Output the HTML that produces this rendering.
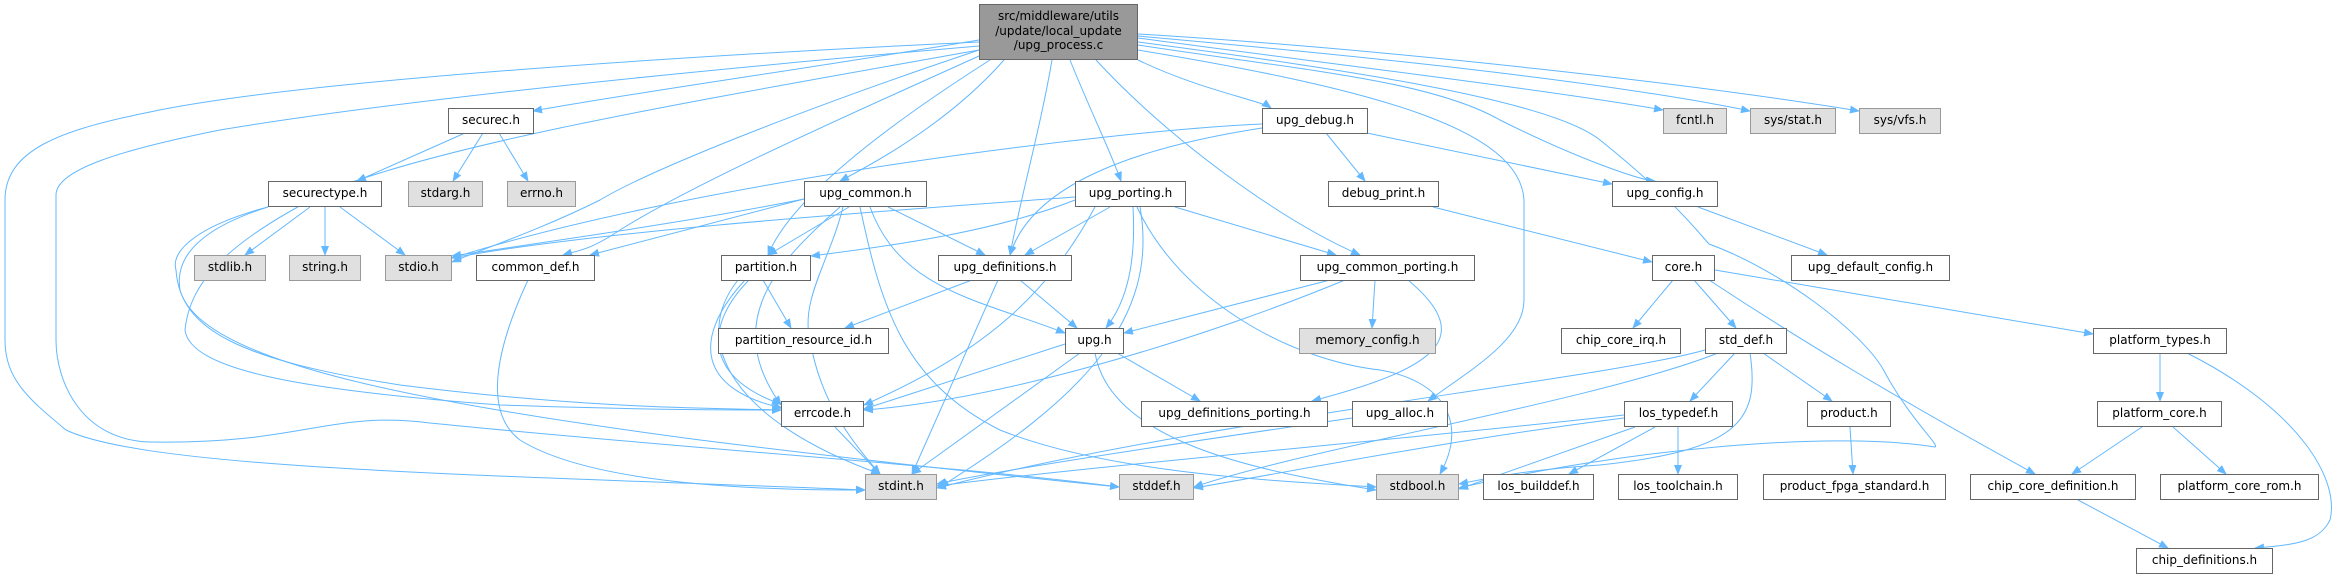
<!DOCTYPE html>
<html><head><meta charset="utf-8"><style>
html,body{margin:0;padding:0;background:#fff;}
body{width:2341px;height:579px;position:relative;overflow:hidden;font-family:"DejaVu Sans","Liberation Sans",sans-serif;}
svg{position:absolute;left:0;top:0;}
.n{position:absolute;box-sizing:border-box;border:1.5px solid #666;background:#fff;font-size:12px;color:#000;text-align:center;height:26px;line-height:23px;white-space:nowrap;}
.g{background:#e0e0e0;border-color:#999;}
</style></head><body>
<svg width="2341" height="579" viewBox="0 0 2341 579">
<defs><marker id="a" markerWidth="10" markerHeight="8" refX="9" refY="4" orient="auto" markerUnits="userSpaceOnUse"><path d="M0,0 L10,4 L0,8 z" fill="#63b8ff"/></marker></defs>
<g fill="none" stroke="#63b8ff" stroke-width="1" marker-end="url(#a)">
<path d="M979,40 C800,70 650,90 533,111"/>
<path d="M979,50 C800,110 650,170 600,200 C540,230 480,250 452,262"/>
<path d="M979,56 C860,110 700,180 620,230 C590,250 580,250 563,255"/>
<path d="M990,60 C880,130 790,200 768,255"/>
<path d="M1004,60 C960,110 900,150 840,181"/>
<path d="M1052,60 C1040,130 1020,200 1010,255"/>
<path d="M1070,60 C1090,110 1110,150 1121,181"/>
<path d="M1096,60 C1170,140 1280,220 1360,255"/>
<path d="M1138,60 C1200,90 1260,100 1271,108"/>
<path d="M1138,45 C1300,70 1430,80 1500,120 C1580,160 1640,180 1655,181"/>
<path d="M1138,38 C1300,60 1550,90 1663,110"/>
<path d="M1138,36 C1350,55 1600,80 1750,111"/>
<path d="M1138,34 C1400,50 1700,85 1859,111"/>
<path d="M1138,50 C1380,90 1520,130 1524,200 L1524,300 C1524,340 1470,370 1428,401"/>
<path d="M1138,42 C1350,70 1550,100 1600,140 C1650,180 1680,210 1709,244 C1780,270 1860,330 1883,369 C1910,420 1940,445 1935,447 C1830,430 1620,450 1459,488"/>
<path d="M979,42 C700,55 300,80 150,112 C60,130 5,150 5,200 L5,340 C5,380 30,400 66,430 C150,470 500,475 865,490"/>
<path d="M979,46 C700,70 400,100 220,130 C120,150 56,170 56,195 L56,340 C56,380 80,440 150,442 C300,445 330,410 430,423 C700,450 950,465 1119,487"/>
<path d="M979,50 C700,100 460,140 330,190 C230,240 190,280 185,330 C190,370 300,390 500,405 C650,410 720,410 781,410"/>
<path d="M465,133 L357,181"/>
<path d="M483,133 L453,181"/>
<path d="M499,133 L528,181"/>
<path d="M310,207 L245,255"/>
<path d="M325,207 L325,255"/>
<path d="M340,207 L405,255"/>
<path d="M268,207 C200,225 170,250 176,270 C180,330 240,360 400,385 C600,410 720,408 781,410"/>
<path d="M268,207 C195,230 175,260 180,290 C200,360 400,400 700,440 C900,465 1050,480 1119,487"/>
<path d="M528,280 C500,340 480,410 520,440 C600,490 800,490 865,490"/>
<path d="M1262,124 C1120,130 700,180 452,258"/>
<path d="M1262,128 C1120,150 1030,190 1010,255"/>
<path d="M1326,133 L1365,181"/>
<path d="M1367,133 L1612,184"/>
<path d="M804,199 C700,220 560,240 452,256"/>
<path d="M804,199 L590,255"/>
<path d="M849,207 L768,255"/>
<path d="M840,207 C780,260 720,320 781,405"/>
<path d="M888,207 L985,255"/>
<path d="M870,207 C900,290 980,300 1065,333"/>
<path d="M860,207 C880,300 900,380 1000,430 C1100,470 1250,480 1376,487"/>
<path d="M843,207 C830,260 800,300 810,340 C820,400 850,440 880,474"/>
<path d="M1075,197 C900,210 600,230 452,258"/>
<path d="M1075,200 C1000,230 900,245 811,256"/>
<path d="M1110,207 L1025,255"/>
<path d="M1095,207 C1050,290 990,350 864,405"/>
<path d="M1133,207 C1136,260 1128,300 1106,328"/>
<path d="M1175,207 L1336,255"/>
<path d="M1140,207 C1160,320 1080,400 940,487"/>
<path d="M1137,207 C1180,300 1290,360 1380,370 C1440,380 1470,420 1440,474"/>
<path d="M749,280 C700,330 710,380 781,404"/>
<path d="M745,280 C690,340 700,390 782,408"/>
<path d="M763,280 L791,328"/>
<path d="M738,280 C690,340 730,420 880,474"/>
<path d="M972,280 L845,328"/>
<path d="M1020,280 L1077,328"/>
<path d="M998,280 L912,474"/>
<path d="M1330,280 L1124,333"/>
<path d="M1375,280 L1372,328"/>
<path d="M1345,280 C1200,340 1000,400 864,410"/>
<path d="M1408,280 C1480,340 1430,370 1312,401"/>
<path d="M1065,344 L864,409"/>
<path d="M1080,353 L912,474"/>
<path d="M1117,353 L1200,401"/>
<path d="M1095,353 C1110,440 1250,470 1376,490"/>
<path d="M835,427 L880,474"/>
<path d="M1352,418 C1200,440 1000,470 937,484"/>
<path d="M1433,207 L1652,262"/>
<path d="M1698,207 L1827,255"/>
<path d="M1673,280 L1633,328"/>
<path d="M1694,280 L1736,328"/>
<path d="M1709,280 C1800,340 1900,400 2035,474"/>
<path d="M1715,270 L2093,334"/>
<path d="M1735,353 L1690,401"/>
<path d="M1763,353 L1832,401"/>
<path d="M1705,350 C1600,380 1200,420 937,488"/>
<path d="M1718,353 C1600,400 1300,450 1194,487"/>
<path d="M1750,353 C1760,420 1740,450 1600,465 C1520,470 1480,480 1459,484"/>
<path d="M1624,415 C1400,440 1100,465 937,486"/>
<path d="M1624,418 C1450,440 1300,470 1194,488"/>
<path d="M1635,427 L1459,489"/>
<path d="M1655,427 L1569,474"/>
<path d="M1678,427 L1678,474"/>
<path d="M1850,427 L1853,474"/>
<path d="M2160,353 L2160,401"/>
<path d="M2187,353 C2300,410 2340,480 2330,520 C2320,540 2300,545 2255,548"/>
<path d="M2142,427 L2072,474"/>
<path d="M2173,427 L2226,474"/>
<path d="M2078,500 L2168,548"/>
</g>
</svg>
<div class="n" style="left:979px;top:4px;width:159px;height:56px;line-height:14.5px;padding-top:4px;background:#999;border-color:#666;">src/middleware/utils<br>/update/local_update<br>/upg_process.c</div>
<div class="n" style="left:448px;top:108px;width:86px;">securec.h</div>
<div class="n" style="left:1262px;top:108px;width:106px;">upg_debug.h</div>
<div class="n g" style="left:1663px;top:108px;width:64px;">fcntl.h</div>
<div class="n g" style="left:1750px;top:108px;width:86px;">sys/stat.h</div>
<div class="n g" style="left:1859px;top:108px;width:82px;">sys/vfs.h</div>
<div class="n" style="left:268px;top:181px;width:114px;">securectype.h</div>
<div class="n g" style="left:408px;top:181px;width:75px;">stdarg.h</div>
<div class="n g" style="left:507px;top:181px;width:69px;">errno.h</div>
<div class="n" style="left:804px;top:181px;width:123px;">upg_common.h</div>
<div class="n" style="left:1075px;top:181px;width:111px;">upg_porting.h</div>
<div class="n" style="left:1328px;top:181px;width:111px;">debug_print.h</div>
<div class="n" style="left:1612px;top:181px;width:106px;">upg_config.h</div>
<div class="n g" style="left:194px;top:255px;width:72px;">stdlib.h</div>
<div class="n g" style="left:289px;top:255px;width:72px;">string.h</div>
<div class="n g" style="left:385px;top:255px;width:67px;">stdio.h</div>
<div class="n" style="left:476px;top:255px;width:119px;">common_def.h</div>
<div class="n" style="left:721px;top:255px;width:90px;">partition.h</div>
<div class="n" style="left:938px;top:255px;width:134px;">upg_definitions.h</div>
<div class="n" style="left:1300px;top:255px;width:175px;">upg_common_porting.h</div>
<div class="n" style="left:1652px;top:255px;width:63px;">core.h</div>
<div class="n" style="left:1791px;top:255px;width:159px;">upg_default_config.h</div>
<div class="n" style="left:718px;top:328px;width:171px;">partition_resource_id.h</div>
<div class="n" style="left:1065px;top:328px;width:59px;">upg.h</div>
<div class="n g" style="left:1299px;top:328px;width:137px;">memory_config.h</div>
<div class="n" style="left:1561px;top:328px;width:120px;">chip_core_irq.h</div>
<div class="n" style="left:1705px;top:328px;width:82px;">std_def.h</div>
<div class="n" style="left:2093px;top:328px;width:134px;">platform_types.h</div>
<div class="n" style="left:781px;top:401px;width:83px;">errcode.h</div>
<div class="n" style="left:1141px;top:401px;width:187px;">upg_definitions_porting.h</div>
<div class="n" style="left:1352px;top:401px;width:96px;">upg_alloc.h</div>
<div class="n" style="left:1624px;top:401px;width:109px;">los_typedef.h</div>
<div class="n" style="left:1807px;top:401px;width:84px;">product.h</div>
<div class="n" style="left:2097px;top:401px;width:125px;">platform_core.h</div>
<div class="n g" style="left:865px;top:474px;width:72px;">stdint.h</div>
<div class="n g" style="left:1119px;top:474px;width:75px;">stddef.h</div>
<div class="n g" style="left:1376px;top:474px;width:83px;">stdbool.h</div>
<div class="n" style="left:1483px;top:474px;width:111px;">los_builddef.h</div>
<div class="n" style="left:1618px;top:474px;width:120px;">los_toolchain.h</div>
<div class="n" style="left:1763px;top:474px;width:183px;">product_fpga_standard.h</div>
<div class="n" style="left:1970px;top:474px;width:166px;">chip_core_definition.h</div>
<div class="n" style="left:2160px;top:474px;width:159px;">platform_core_rom.h</div>
<div class="n" style="left:2136px;top:548px;width:137px;">chip_definitions.h</div>
</body></html>
